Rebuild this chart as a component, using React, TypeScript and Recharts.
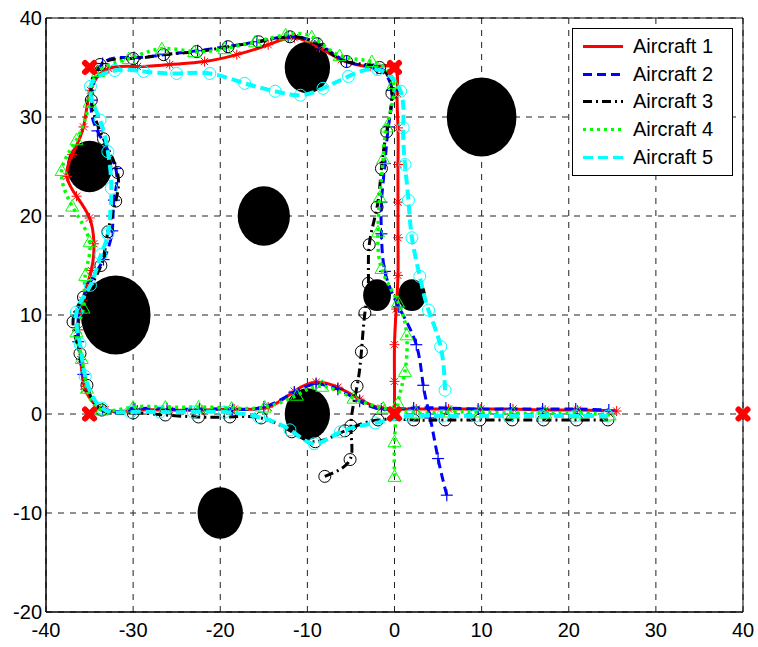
import React from "react";
import {
  ComposedChart,
  Scatter,
  XAxis,
  YAxis,
  CartesianGrid,
  ReferenceArea,
} from "recharts";

// Trajectories, one [x, y] list per aircraft, ordered along the flight.
const AIRCRAFT_1: [number, number][] = [
  [0, 0.3], [0, 3.3], [0, 7.0], [0.2, 10.6], [0.4, 14.0], [0.4, 17.8], [0.4, 21.4],
  [0.4, 25.2], [0.4, 28.9], [0.3, 32.4], [0, 35],
  [-2.8, 35.1], [-6.1, 35.8], [-8.6, 37.0], [-11.5, 38.0], [-14.5, 37.3], [-18.1, 36.3],
  [-21.8, 35.6], [-25.8, 35.3], [-29.5, 35.1], [-32.8, 34.9],
  [-34.9, 32.7], [-35.7, 29.0], [-37.0, 26.2], [-37.6, 24.0], [-36.5, 22.0], [-35.0, 19.8],
  [-34.5, 17.2], [-34.8, 14.5], [-35.8, 11.5], [-36.3, 8.5], [-36.0, 5.5], [-35.5, 2.5],
  [-33.2, 0.4], [-29.5, 0.4], [-25.8, 0.4], [-22.1, 0.4], [-18.4, 0.5], [-14.5, 0.7],
  [-11.5, 2.3], [-9.0, 3.2], [-6.5, 2.7], [-4.0, 1.5], [-1.5, 0.6],
  [2.5, 0.5], [6.2, 0.5], [9.9, 0.5], [13.6, 0.5], [17.3, 0.4], [21.0, 0.4], [25.5, 0.3],
];

const AIRCRAFT_2: [number, number][] = [
  [6.0, -8.2], [5.0, -4.5], [4.1, -0.4], [3.3, 2.9], [2.5, 7.0], [0.5, 10.8],
  [-1.1, 14.4], [-1.5, 18.2], [-1.5, 21.4], [-1.1, 25.3], [-0.7, 29.0], [-0.3, 32.7],
  [-2.0, 34.9], [-5.5, 35.6], [-8.7, 37.4], [-12.2, 38.1], [-15.8, 37.6], [-19.3, 37.1],
  [-22.6, 36.7], [-26.3, 36.3], [-29.9, 36.0], [-33.5, 35.4],
  [-34.8, 31.7], [-34.1, 28.6], [-32.0, 24.8], [-32.2, 21.6], [-32.4, 18.5], [-33.4, 15.6],
  [-35.0, 13.2], [-36.2, 10.3], [-36.3, 7.3], [-35.7, 4.0],
  [-33.5, 0.5], [-29.8, 0.5], [-26.1, 0.5], [-22.4, 0.5], [-18.6, 0.5], [-15.0, 0.7],
  [-11.5, 2.2], [-9.0, 3.0], [-6.5, 2.5], [-4.0, 1.3], [-1.5, 0.5],
  [2.2, 0.6], [5.9, 0.6], [9.6, 0.5], [13.3, 0.5], [17.0, 0.5], [20.8, 0.5], [24.6, 0.4],
];

const AIRCRAFT_3: [number, number][] = [
  [-8.0, -6.3], [-5.1, -4.6], [-5.0, -1.2], [-4.3, 2.8], [-3.8, 6.3], [-3.4, 10.2],
  [-3.0, 13.2], [-2.9, 17.1], [-2.0, 20.9], [-1.5, 24.8], [-0.9, 28.5], [-0.3, 32.4],
  [-1.7, 35.0], [-5.5, 35.6], [-8.9, 37.4], [-12.0, 38.1], [-15.6, 37.6], [-19.1, 37.1],
  [-22.7, 36.6], [-26.5, 36.3], [-30.0, 35.9], [-33.8, 35.3],
  [-34.8, 31.7], [-33.4, 27.8], [-31.8, 24.4], [-32.0, 21.5], [-32.9, 18.4], [-33.7, 15.0],
  [-35.7, 11.8], [-36.9, 9.3], [-36.1, 6.1], [-35.3, 2.9],
  [-33.6, 0.4], [-30.0, 0.1], [-26.3, -0.1], [-22.5, -0.3], [-18.9, -0.3], [-15.3, -0.4],
  [-11.8, -1.8], [-9.1, -2.8], [-5.7, -1.7], [-1.9, -0.6],
  [2.2, -0.6], [5.8, -0.6], [9.8, -0.6], [13.5, -0.6], [17.1, -0.6], [20.9, -0.6], [24.5, -0.6],
];

const AIRCRAFT_4: [number, number][] = [
  [0, -6.3], [0, -2.8], [0.4, 1.1], [1.2, 4.3], [1.4, 8.0], [0.4, 11.3], [-1.5, 14.7],
  [-1.9, 18.4], [-1.7, 21.9], [-1.3, 25.8], [-0.9, 29.0], [-0.1, 33.4],
  [-2.6, 35.6], [-6.3, 36.2], [-9.5, 38.1], [-12.5, 38.3], [-16.0, 37.6], [-19.5, 36.9],
  [-23.0, 36.6], [-26.7, 36.9], [-30.5, 35.9], [-34.0, 34.6],
  [-35.0, 31.5], [-36.5, 27.7], [-38.2, 24.6], [-37.0, 21.0], [-35.0, 17.4], [-35.5, 14.0],
  [-35.7, 10.7], [-36.5, 8.3], [-35.9, 5.6], [-35.3, 2.6],
  [-33.6, 0.4], [-30.0, 0.7], [-26.3, 0.7], [-22.5, 0.7], [-18.7, 0.6], [-14.9, 0.7],
  [-11.2, 1.9], [-8.3, 2.8], [-4.7, 1.6], [-1.3, 0.6],
  [2.5, 0.1], [6.4, 0.2], [9.8, 0.2], [13.6, 0.1], [17.3, 0.1], [21.1, 0.1], [24.7, -0.1],
];

const AIRCRAFT_5: [number, number][] = [
  [5.8, 2.4], [5.3, 6.8], [3.9, 10.5], [2.9, 13.9], [2.0, 17.8], [1.6, 21.6], [1.2, 25.2],
  [1.0, 28.9], [0.7, 32.6],
  [-1.9, 34.8], [-5.3, 34.1], [-8.2, 32.9], [-10.8, 32.2], [-13.7, 32.6], [-17.2, 33.4],
  [-21.2, 34.4], [-25.0, 34.4], [-28.8, 34.6], [-32.1, 34.7],
  [-34.9, 33.1], [-33.8, 29.7], [-32.9, 26.5], [-32.5, 22.8], [-32.9, 18.2], [-33.7, 16.1],
  [-34.9, 13.0], [-36.5, 10.3], [-36.1, 7.1], [-35.5, 3.8],
  [-33.6, 0.6], [-30.3, 0.2], [-26.9, 0.2], [-23.1, 0.2], [-19.5, 0.2], [-15.6, -0.3],
  [-12.0, -1.6], [-9.2, -3.0], [-6.2, -1.8], [-2.2, -0.9],
  [1.8, -0.2], [5.5, -0.2], [9.3, -0.2], [13.1, -0.2], [16.9, -0.2], [20.7, -0.2], [24.5, -0.2],
];

// Circular no-fly zones: centre and radius in axis units.
const OBSTACLE_X = [-35, -32, -15, -10, 10, -2, 2, -10, -20];
const OBSTACLE_Y = [25, 10, 20, 35, 30, 12, 12, 0, -10];
const OBSTACLE_R = [2.6, 4, 3, 2.6, 4, 1.6, 1.6, 2.6, 2.6];

// Route waypoints.
const WAYPOINT_X = [-35, 0, -35, 0, 40];
const WAYPOINT_Y = [35, 35, 0, 0, 0];

const X_TICKS = [-40, -30, -20, -10, 0, 10, 20, 30, 40];
const Y_TICKS = [-20, -10, 0, 10, 20, 30, 40];

const CHART_W = 758;
const CHART_H = 647;
const MARGIN = { top: 18, right: 15, left: 0, bottom: 0 };
const Y_AXIS_W = 46;
const X_AXIS_H = 35;
const PLOT_W = CHART_W - MARGIN.left - MARGIN.right - Y_AXIS_W;
const PLOT_H = CHART_H - MARGIN.top - MARGIN.bottom - X_AXIS_H;
const X_SPAN = X_TICKS[X_TICKS.length - 1] - X_TICKS[0];
const Y_SPAN = Y_TICKS[Y_TICKS.length - 1] - Y_TICKS[0];

const FONT = "'Liberation Sans', Arial, Helvetica, sans-serif";

const toPoints = (pts: [number, number][]) => pts.map(([x, y]) => ({ x, y }));

const obstacles = OBSTACLE_X.map((x, i) => ({ x, y: OBSTACLE_Y[i], r: OBSTACLE_R[i] }));
const waypoints = WAYPOINT_X.map((x, i) => ({ x, y: WAYPOINT_Y[i] }));

type MarkerProps = { cx?: number; cy?: number };

const starMarker = (color: string) => ({ cx = 0, cy = 0 }: MarkerProps) => {
  const s = 5;
  const d = 3.6;
  return (
    <g stroke={color} strokeWidth={1}>
      <line x1={cx - s} y1={cy} x2={cx + s} y2={cy} />
      <line x1={cx} y1={cy - s} x2={cx} y2={cy + s} />
      <line x1={cx - d} y1={cy - d} x2={cx + d} y2={cy + d} />
      <line x1={cx - d} y1={cy + d} x2={cx + d} y2={cy - d} />
    </g>
  );
};

const plusMarker = (color: string) => ({ cx = 0, cy = 0 }: MarkerProps) => (
  <g stroke={color} strokeWidth={1.2}>
    <line x1={cx - 6} y1={cy} x2={cx + 6} y2={cy} />
    <line x1={cx} y1={cy - 6} x2={cx} y2={cy + 6} />
  </g>
);

const circleMarker = (color: string) => ({ cx = 0, cy = 0 }: MarkerProps) => (
  <circle cx={cx} cy={cy} r={6} fill="none" stroke={color} strokeWidth={1} />
);

const triangleMarker = (color: string) => ({ cx = 0, cy = 0 }: MarkerProps) => (
  <polygon
    points={`${cx},${cy - 6.5} ${cx - 6.5},${cy + 5} ${cx + 6.5},${cy + 5}`}
    fill="none"
    stroke={color}
    strokeWidth={1}
  />
);

const ObstacleShape = (props: any) => {
  const { cx, cy, payload } = props;
  return (
    <ellipse
      cx={cx}
      cy={cy}
      rx={(payload.r * PLOT_W) / X_SPAN}
      ry={(payload.r * PLOT_H) / Y_SPAN}
      fill="#000"
    />
  );
};

const WaypointShape = ({ cx = 0, cy = 0 }: MarkerProps) => (
  <g stroke="#ff0000" strokeWidth={6} strokeLinecap="round">
    <line x1={cx - 4.5} y1={cy - 4.5} x2={cx + 4.5} y2={cy + 4.5} />
    <line x1={cx - 4.5} y1={cy + 4.5} x2={cx + 4.5} y2={cy - 4.5} />
  </g>
);

const SERIES = [
  { name: "Aircraft 1", data: AIRCRAFT_1, color: "#ff0000", dash: undefined, width: 3, marker: starMarker },
  { name: "Aircraft 2", data: AIRCRAFT_2, color: "#0000ff", dash: "9 5", width: 3, marker: plusMarker },
  { name: "Aircraft 3", data: AIRCRAFT_3, color: "#000000", dash: "9 4 2 4", width: 3, marker: circleMarker },
  { name: "Aircraft 4", data: AIRCRAFT_4, color: "#00ff00", dash: "3 4", width: 3.5, marker: triangleMarker },
  { name: "Aircraft 5", data: AIRCRAFT_5, color: "#00ffff", dash: "10 5", width: 4, marker: circleMarker },
];

function LegendBox() {
  return (
    <div
      style={{
        position: "absolute",
        left: 572,
        top: 28,
        width: 159,
        height: 146,
        border: "1px solid #000",
        background: "#fff",
        fontFamily: FONT,
        fontSize: 20,
      }}
    >
      {SERIES.map((s, i) => (
        <div
          key={s.name}
          style={{ position: "absolute", left: 0, top: 4 + i * 27.7, height: 27, display: "flex", alignItems: "center" }}
        >
          <svg width={60} height={27} style={{ display: "block" }}>
            <line x1={10} y1={13.5} x2={50} y2={13.5} stroke={s.color} strokeWidth={3} strokeDasharray={s.dash} />
          </svg>
          <span style={{ lineHeight: "27px" }}>{s.name}</span>
        </div>
      ))}
    </div>
  );
}

export default function App() {
  return (
    <div style={{ position: "absolute", left: 0, top: 0, width: CHART_W, height: CHART_H, background: "#fff" }}>
      <ComposedChart width={CHART_W} height={CHART_H} margin={MARGIN}>
        <CartesianGrid stroke="#222" strokeDasharray="6 6" />
        <XAxis
          type="number"
          dataKey="x"
          domain={[X_TICKS[0], X_TICKS[X_TICKS.length - 1]]}
          ticks={X_TICKS}
          interval={0}
          height={X_AXIS_H}
          tickLine={false}
          tickMargin={5}
          axisLine={{ stroke: "#000" }}
          tick={{ fill: "#000", fontSize: 20, fontFamily: FONT }}
        />
        <YAxis
          type="number"
          dataKey="y"
          domain={[Y_TICKS[0], Y_TICKS[Y_TICKS.length - 1]]}
          ticks={Y_TICKS}
          interval={0}
          width={Y_AXIS_W}
          tickLine={false}
          tickSize={4}
          tickMargin={0}
          axisLine={{ stroke: "#000" }}
          tick={{ fill: "#000", fontSize: 20, fontFamily: FONT }}
        />
        <ReferenceArea
          x1={X_TICKS[0]}
          x2={X_TICKS[X_TICKS.length - 1]}
          y1={Y_TICKS[0]}
          y2={Y_TICKS[Y_TICKS.length - 1]}
          fill="none"
          stroke="#000"
          strokeWidth={1}
        />
        <Scatter data={obstacles} shape={ObstacleShape} isAnimationActive={false} />
        {SERIES.map((s) => (
          <Scatter
            key={s.name}
            name={s.name}
            data={toPoints(s.data)}
            fill={s.color}
            line={{ stroke: s.color, strokeWidth: s.width, strokeDasharray: s.dash }}
            lineType="joint"
            lineJointType="natural"
            shape={s.marker(s.color)}
            isAnimationActive={false}
          />
        ))}
        <Scatter data={waypoints} shape={WaypointShape} isAnimationActive={false} />
      </ComposedChart>
      <LegendBox />
    </div>
  );
}
